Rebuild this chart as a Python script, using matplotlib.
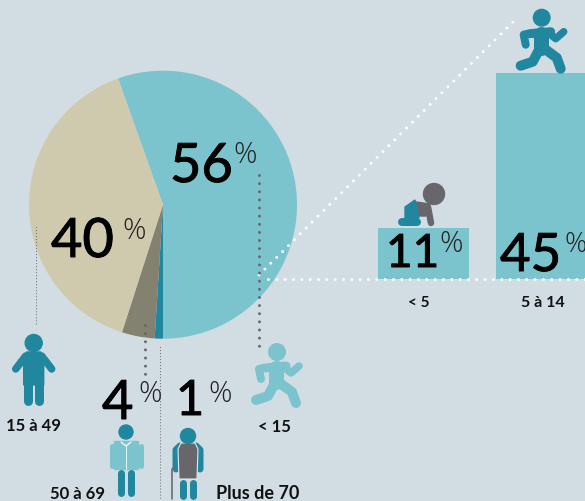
import matplotlib
matplotlib.use("Agg")
import matplotlib.pyplot as plt
import matplotlib.patheffects as pe
from matplotlib.patches import Circle, Polygon

# pie shares by age group (they sum to 101 in the source)
pie_labels = ["< 15", "Plus de 70", "50 à 69", "15 à 49"]
pie_values = [56, 1, 4, 40]

# detail of the under 15 share
bar_labels = ["< 5", "5 à 14"]
bar_values = [11, 45]

BG = "#d2dce3"
LIGHT = "#7cc4cd"
DARK = "#20879f"
BEIGE = "#cfc9ad"
OLIVE = "#83816f"
GREY = "#67676b"
px = 72 / 100  # one pixel in points at dpi 100


def limb(ax, pts, color, width, z=5):
    xs = [p[0] for p in pts]
    ys = [p[1] for p in pts]
    ax.plot(xs, ys, color=color, lw=width * px, solid_capstyle="round",
            solid_joinstyle="round", zorder=z)


def runner(ax, x, y, color):
    ax.add_patch(Circle((x, y), 8.3, color=color, zorder=5))
    shapes = [
        ([(-14, 16), (-18, 17), (-16, 27)], 8),
        ([(8, 16), (14, 21), (22, 14)], 7.5),
        ([(-12, 16), (9, 14)], 9),
        ([(-1, 16), (-1, 30)], 15),
        ([(0, 29), (15, 40), (19, 51)], 10),
        ([(-2, 31), (-9, 44), (-21, 48)], 10),
    ]
    for pts, w in shapes:
        limb(ax, [(x + a, y + b) for a, b in pts], color, w)


def standing(ax, x, y, color):
    ax.add_patch(Circle((x, y), 8.5, color=color, zorder=5))
    limb(ax, [(x - 8, y + 13), (x - 18, y + 26)], color, 7.5)
    limb(ax, [(x + 8, y + 13), (x + 18, y + 26)], color, 7.5)
    ax.add_patch(Polygon([(x - 7, y + 9), (x + 7, y + 9), (x + 10, y + 14), (x + 10, y + 42),
                          (x - 10, y + 42), (x - 10, y + 14)], color=color, zorder=5))
    limb(ax, [(x - 5.5, y + 35), (x - 5.5, y + 58)], color, 9)
    limb(ax, [(x + 5.5, y + 35), (x + 5.5, y + 58)], color, 9)


def jacket_man(ax, x, y):
    ax.add_patch(Circle((x, y), 7, color=DARK, zorder=5))
    limb(ax, [(x - 14, y + 14), (x - 14, y + 34)], LIGHT, 5)
    limb(ax, [(x + 15, y + 14), (x + 15, y + 34)], LIGHT, 5)
    ax.add_patch(Polygon([(x - 12, y + 9), (x + 12, y + 9), (x + 12, y + 37), (x - 12, y + 37)],
                         color=LIGHT, zorder=5))
    limb(ax, [(x - 5, y + 10), (x, y + 14), (x + 5, y + 10)], "white", 1.2, 6)
    limb(ax, [(x, y + 14), (x, y + 37)], "white", 0.8, 6)
    limb(ax, [(x - 5, y + 41), (x - 5, y + 61)], DARK, 7)
    limb(ax, [(x + 5, y + 41), (x + 5, y + 61)], DARK, 7)


def old_man(ax, x, y):
    limb(ax, [(x - 12, y + 33), (x - 12, y + 14), (x - 8, y + 10)], DARK, 7)
    limb(ax, [(x + 12, y + 33), (x + 12, y + 14), (x + 8, y + 10)], DARK, 7)
    ax.add_patch(Polygon([(x - 7, y + 7), (x + 7, y + 7), (x + 10, y + 13), (x + 9, y + 43),
                          (x - 9, y + 43), (x - 10, y + 13)],
                         fc=GREY, ec="#e4e8ea", lw=0.8, zorder=6))
    ax.add_patch(Circle((x, y), 7.5, color=DARK, zorder=7))
    limb(ax, [(x - 5, y + 47), (x - 5, y + 60)], DARK, 7)
    limb(ax, [(x + 5, y + 47), (x + 5, y + 60)], DARK, 7)
    limb(ax, [(x - 16, y + 63), (x - 16, y + 33), (x - 13, y + 31)], GREY, 1.6)


def baby(ax, x, y):
    ax.add_patch(Circle((x, y), 10.5, color=GREY, zorder=5))
    ax.add_patch(Polygon([(x - 18, y + 8), (x - 4, y + 10), (x - 8, y + 22), (x - 16, y + 22)],
                         color=GREY, zorder=5))
    limb(ax, [(x - 6, y + 13), (x - 3, y + 29)], GREY, 6.5)
    ax.add_patch(Polygon([(x - 29, y + 13), (x - 19, y + 6), (x - 15, y + 24), (x - 29, y + 24)],
                         color=DARK, zorder=6))
    limb(ax, [(x - 32, y + 28), (x - 17, y + 28)], DARK, 8, 6)


def dots(ax, x0, y0, x1, y1, color, size, gap, z=4):
    ax.plot([x0, x1], [y0, y1], color=color, lw=size * px, zorder=z,
            linestyle=(0, (0.01, gap / size)), dash_capstyle="round")


def share(ax, value, x, y, px_x, px_y, size=39, psize=21):
    t = ax.text(x, y, str(value), fontsize=size, family="Lato", color="black",
                ha="left", va="baseline", zorder=8)
    t.set_path_effects([pe.withStroke(linewidth=0.7, foreground="black")])
    ax.text(px_x, px_y, "%", fontsize=psize, family="Open Sans", fontweight="light",
            color="#222222", ha="left", va="baseline", zorder=8)


def label(ax, text, x, y, size=12):
    ax.text(x, y, text, fontsize=size, family="Lato", fontweight="bold", color="#111111",
            ha="center", va="baseline", zorder=8)


fig = plt.figure(figsize=(5.85, 5.02), dpi=100, facecolor=BG)
ax = fig.add_axes([0, 0, 1, 1])

ax.pie(pie_values, colors=[LIGHT, DARK, OLIVE, BEIGE], center=(163, 205.7), radius=134,
       startangle=-109.6, counterclock=True, wedgeprops={"linewidth": 0})

# bars share one pixel scale, baseline at y=279
scale = 206 / bar_values[1]
ax.bar([423.5, 541.5], [v * scale for v in bar_values], width=91,
       bottom=[279.7 - v * scale for v in bar_values], color=LIGHT, zorder=2)

ax.set_xlim(0, 585)
ax.set_ylim(502, 0)
ax.set_aspect("auto")
ax.axis("off")

# leader lines
dots(ax, 259, 276, 517, 19, "white", 3, 8.3)
dots(ax, 268, 280, 585, 280, "white", 3, 8.3)
dots(ax, 259, 176, 259, 350, GREY, 3, 8.1)
dots(ax, 145, 326, 145, 378, GREY, 3, 8.1)
dots(ax, 36, 228, 36, 325, GREY, 1.2, 3)
dots(ax, 159.5, 348, 159.5, 500, GREY, 1.2, 3)

share(ax, pie_values[0], 170, 183, 233, 163)
share(ax, pie_values[3], 51, 258, 122, 239)
share(ax, pie_values[2], 102, 420, 138, 402)
share(ax, pie_values[1], 176, 416, 208, 402, size=35)
share(ax, bar_values[0], 386, 268, 439, 252, size=33)
share(ax, bar_values[1], 500, 272, 564, 252, size=38, psize=20)

label(ax, pie_labels[3], 33, 431)
label(ax, pie_labels[0], 274, 432)
label(ax, pie_labels[2], 78, 499)
label(ax, pie_labels[1], 258, 499, 13)
label(ax, bar_labels[0], 419, 307, 11)
label(ax, bar_labels[1], 543, 307, 11.5)

runner(ax, 541.7, 18.7, DARK)
runner(ax, 277, 353, LIGHT)
standing(ax, 33.7, 344, DARK)
jacket_man(ax, 126, 433)
old_man(ax, 188, 437)
baby(ax, 434, 195)

fig.savefig("out.png", dpi=100, facecolor=BG)
